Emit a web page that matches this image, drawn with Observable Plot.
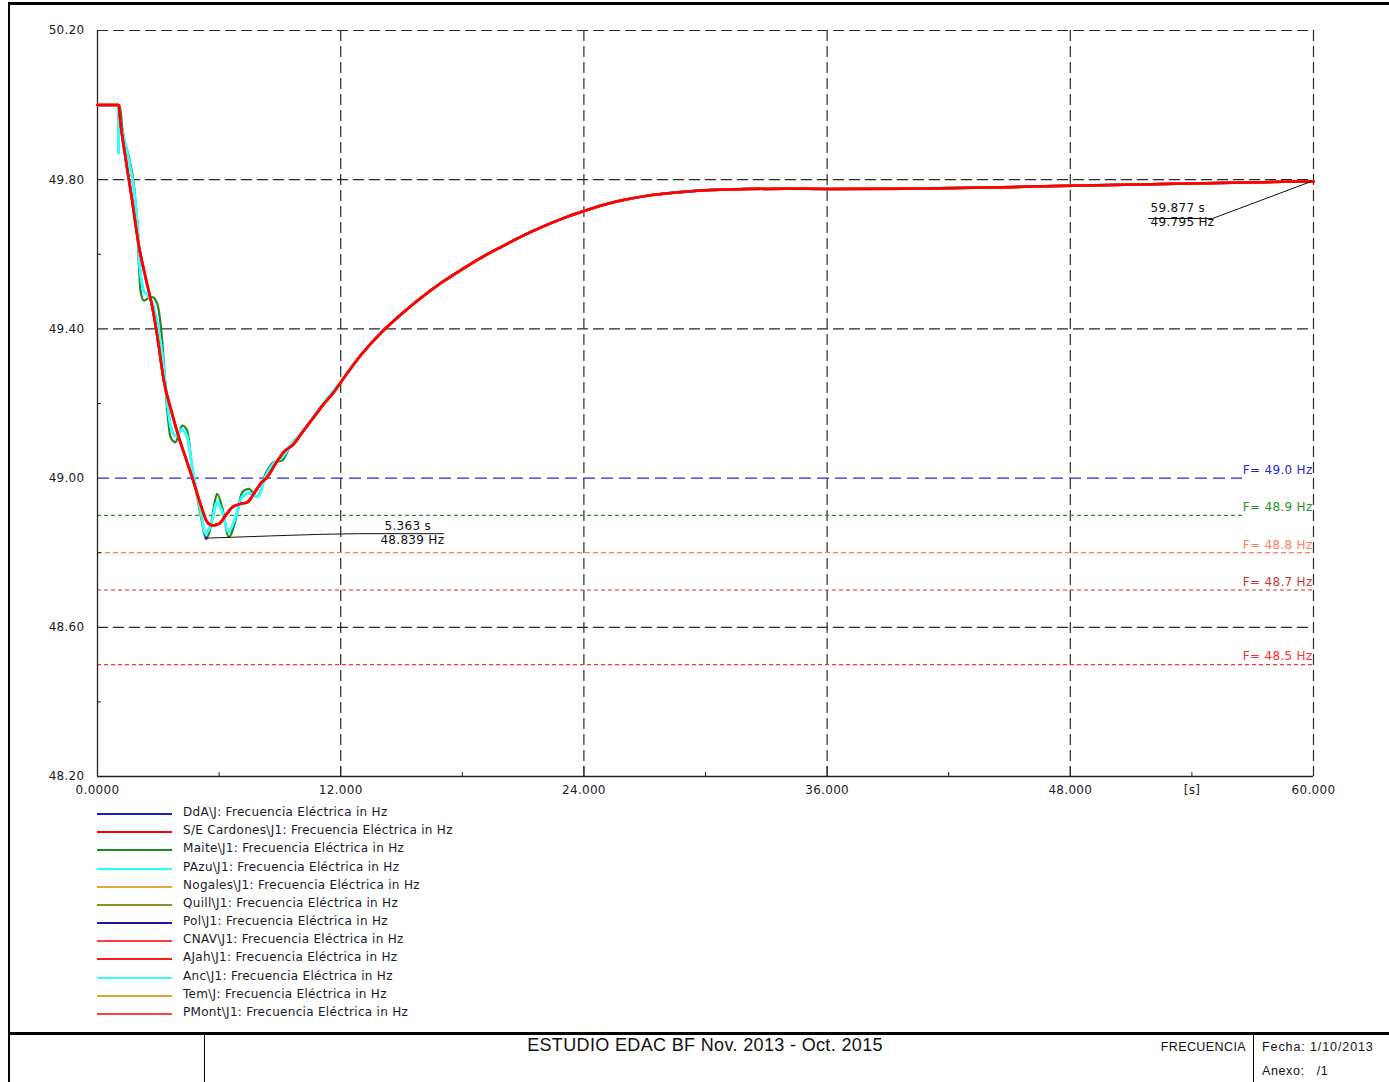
<!DOCTYPE html>
<html>
<head>
<meta charset="utf-8">
<script src="https://cdn.jsdelivr.net/npm/d3@7"></script>
<script src="https://cdn.jsdelivr.net/npm/@observablehq/plot@0.6"></script>
<style>
  html, body { margin: 0; padding: 0; background: #fff; }
  #page { position: relative; width: 1389px; height: 1082px; overflow: hidden; background: #fff; font-family: "DejaVu Sans", sans-serif; }
  #chart { position: absolute; left: 0; top: 0; }
  .bar { position: absolute; background: #000; }
  .leg { position: absolute; left: 0; height: 18px; width: 700px; font-size: 12px; letter-spacing: 0.3px; color: #1a1a2a; }
  .leg .sw { position: absolute; left: 97px; top: 8px; width: 75px; height: 1.5px; }
  .leg .tx { position: absolute; left: 183px; top: 0px; white-space: nowrap; }
  .ft { position: absolute; white-space: nowrap; color: #111; font-family: "Liberation Sans", Arial, sans-serif; }
</style>
</head>
<body>
<div id="page">
  <div id="chart"></div>
  <div id="legend"></div>
  <div class="bar" style="left:8px;top:2px;width:1381px;height:3px;"></div>
  <div class="bar" style="left:8px;top:2px;width:2px;height:1080px;"></div>
  <div class="bar" style="left:8px;top:1032px;width:1381px;height:3px;"></div>
  <div class="bar" style="left:204px;top:1035px;width:1px;height:47px;"></div>
  <div class="bar" style="left:1253px;top:1035px;width:1px;height:47px;"></div>
  <div class="ft" id="ftTitle" style="left:405px;width:600px;text-align:center;top:1035px;font-size:18px;letter-spacing:0.35px;"></div>
  <div class="ft" id="ftSection" style="right:143px;top:1040px;font-size:12.5px;letter-spacing:0.4px;"></div>
  <div class="ft" id="ftDate" style="left:1262px;top:1040px;font-size:12.5px;letter-spacing:0.9px;"></div>
  <div class="ft" id="ftAnnex" style="left:1262px;top:1064px;font-size:12.5px;letter-spacing:0.6px;white-space:pre;"></div>
</div>
<script>
// ---------- Data ----------
const xTicks = [0, 12, 24, 36, 48, 54, 60];
const xTickLabels = ["0.0000", "12.000", "24.000", "36.000", "48.000", "[s]", "60.000"];
const xGrid = [12, 24, 36, 48, 60];
const xMinor = [6, 18, 30, 42, 54];
const yTicks = [50.2, 49.8, 49.4, 49.0, 48.6, 48.2];
const yTickLabels = ["50.20", "49.80", "49.40", "49.00", "48.60", "48.20"];
const yGrid = [50.2, 49.8, 49.4, 48.6];
const yMinor = [50.0, 49.6, 49.2, 48.8, 48.4];

// Frequency profiles (s, Hz)
const redT = [0, 1.05, 1.1, 1.38, 1.71, 2.02, 2.37, 2.71, 2.96, 3.27, 3.68, 4.01, 4.34, 4.67, 5.08, 5.41, 5.66, 5.99, 6.32, 6.65, 7.06, 7.39, 7.71, 8.04, 8.37, 8.78, 9.19, 9.69, 10.18, 10.67, 11.17, 11.66, 12.07];
const redF = [50.0, 50.0, 49.97, 49.86, 49.744, 49.629, 49.538, 49.457, 49.377, 49.262, 49.173, 49.11, 49.056, 49.002, 48.931, 48.882, 48.873, 48.877, 48.9, 48.922, 48.931, 48.935, 48.958, 48.985, 49.002, 49.038, 49.07, 49.092, 49.128, 49.163, 49.199, 49.23, 49.262];
const greenT = [0, 1.1, 1.22, 1.55, 1.79, 1.96, 2.04, 2.12, 2.29, 2.5, 2.7, 2.95, 3.11, 3.19, 3.44, 3.6, 3.85, 4.0, 4.18, 4.42, 4.67, 5.08, 5.363, 5.58, 5.75, 5.9, 6.15, 6.48, 6.81, 7.14, 7.47, 7.88, 8.29, 8.7, 9.11, 9.52, 10.18, 11.0, 12.07];
const greenF = [50.0, 50.0, 49.94, 49.86, 49.789, 49.68, 49.575, 49.503, 49.476, 49.482, 49.485, 49.467, 49.414, 49.369, 49.181, 49.11, 49.096, 49.115, 49.141, 49.128, 49.029, 48.904, 48.839, 48.868, 48.925, 48.958, 48.922, 48.842, 48.886, 48.962, 48.971, 48.949, 49.011, 49.043, 49.047, 49.087, 49.128, 49.19, 49.262];
const cyanT = [0, 1.03, 1.04, 1.06, 1.22, 1.55, 1.79, 2.0, 2.1, 2.3, 2.5, 2.7, 3.0, 3.2, 3.45, 3.65, 3.9, 4.15, 4.4, 4.7, 5.1, 5.33, 5.6, 5.9, 6.15, 6.45, 6.8, 7.14, 7.5, 7.9, 8.3, 8.7, 9.1, 9.5, 10.18, 11.0, 12.07];
const cyanF = [50.0, 50.0, 49.87, 49.96, 49.93, 49.85, 49.775, 49.66, 49.56, 49.5, 49.49, 49.47, 49.4, 49.33, 49.2, 49.13, 49.112, 49.13, 49.115, 49.02, 48.91, 48.852, 48.875, 48.935, 48.91, 48.856, 48.893, 48.95, 48.96, 48.95, 49.005, 49.04, 49.055, 49.085, 49.128, 49.19, 49.262];
// after ~12 s all series coincide
const tailT = [13, 14, 15, 16, 17, 18, 19, 20, 21, 22, 23, 24, 25, 26, 27, 28, 29, 30, 32, 34, 36, 40, 44, 48, 52, 56, 59.877, 60];
const tailF = [49.33, 49.39, 49.44, 49.485, 49.525, 49.56, 49.593, 49.622, 49.65, 49.675, 49.697, 49.716, 49.733, 49.746, 49.756, 49.763, 49.768, 49.772, 49.775, 49.776, 49.775, 49.776, 49.779, 49.784, 49.788, 49.792, 49.795, 49.795];

// Series (legend order)
const seriesNames = [
  "DdA\\J: Frecuencia Eléctrica in Hz",
  "S/E Cardones\\J1: Frecuencia Eléctrica in Hz",
  "Maite\\J1: Frecuencia Eléctrica in Hz",
  "PAzu\\J1: Frecuencia Eléctrica in Hz",
  "Nogales\\J1: Frecuencia Eléctrica in Hz",
  "Quill\\J1: Frecuencia Eléctrica in Hz",
  "Pol\\J1: Frecuencia Eléctrica in Hz",
  "CNAV\\J1: Frecuencia Eléctrica in Hz",
  "AJah\\J1: Frecuencia Eléctrica in Hz",
  "Anc\\J1: Frecuencia Eléctrica in Hz",
  "Tem\\J: Frecuencia Eléctrica in Hz",
  "PMont\\J1: Frecuencia Eléctrica in Hz"
];
const seriesColors = ["#1c1ccc", "#ff0000", "#1f8a1f", "#22ffff", "#e0a640", "#8c8c2a", "#1a1aa8", "#ff3b3b", "#ff1a1a", "#33ffff", "#d9a43a", "#ff4040"];
const seriesProfile = ["cyan", "red", "green", "cyan", "red", "red", "cyan", "red", "red", "cyan", "red", "red"];
const drawOrder = [4, 5, 10, 0, 6, 2, 3, 9, 7, 8, 11, 1];

// Threshold reference lines
const refValues = [49.0, 48.9, 48.8, 48.7, 48.5];
const refLabels = ["F= 49.0 Hz", "F= 48.9 Hz", "F= 48.8 Hz", "F= 48.7 Hz", "F= 48.5 Hz"];
const refColors = ["#2a2ad0", "#2a922a", "#ff8060", "#c83838", "#ff3030"];
const refDash = ["12,6", "4,3", "5,3", "4,3", "4,3"];
const refEnd = [56.5, 56.5, 60, 60, 60];

// Annotations (data coordinates)
const minMarkT = 5.363, minMarkF = 48.839;
const ann1LineT = [5.363, 8.54, 10.84, 12.88, 17.07];
const ann1LineF = [48.839, 48.845, 48.849, 48.851, 48.851];
const ann1Text = ["5.363 s", "48.839 Hz"];
const ann1TextT = [14.16, 13.96];
const ann1TextF = [48.872, 48.834];
const ann2LineT = [59.877, 55.02, 51.86];
const ann2LineF = [49.795, 49.696, 49.696];
const ann2Text = ["59.877 s", "49.795 Hz"];
const ann2TextT = [51.96, 51.96];
const ann2TextF = [49.724, 49.686];

const footerTitle = "ESTUDIO EDAC BF Nov. 2013 - Oct. 2015";
const footerSection = "FRECUENCIA";
const footerDate = "Fecha: 1/10/2013";
const footerAnnex = "Anexo:   /1";

// ---------- Build ----------
const profiles = {
  red: redT.map((t, i) => ({t, f: redF[i]})),
  green: greenT.map((t, i) => ({t, f: greenF[i]})),
  cyan: cyanT.map((t, i) => ({t, f: cyanF[i]}))
};
const tail = tailT.map((t, i) => ({t, f: tailF[i]}));
for (const k in profiles) profiles[k] = profiles[k].concat(tail);

const widthFor = i => {
  if (i === 2) return 2.2;
  if (i === 3 || i === 9) return 2.6;
  if (seriesColors[i].startsWith("#ff")) return 2.5;
  return 1.8;
};

const lineMarks = drawOrder.map(i =>
  Plot.line(profiles[seriesProfile[i]], {x: "t", y: "f", stroke: seriesColors[i], strokeWidth: widthFor(i), curve: "monotone-x"})
);

const refRows = refValues.map((v, i) => ({v, label: refLabels[i], color: refColors[i], dash: refDash[i], end: refEnd[i]}));

const gridStyle = {stroke: "#2a2a2a", strokeWidth: 1.2, strokeDasharray: "11,5"};
const fs = 12;

const chart = Plot.plot({
  width: 1389,
  height: 800,
  marginLeft: 97,
  marginRight: 76,
  marginTop: 30,
  marginBottom: 24,
  x: {domain: [0, 60], label: null},
  y: {domain: [48.2, 50.2], label: null},
  style: {fontFamily: "DejaVu Sans", fontSize: "12px", color: "#1a1a2a", background: "transparent", overflow: "visible", letterSpacing: "0.3px"},
  marks: [
    Plot.ruleY(yGrid, gridStyle),
    Plot.ruleX(xGrid, gridStyle),
    ...refRows.map(r => Plot.ruleY([r.v], {x1: 0, x2: r.end, stroke: r.color, strokeWidth: 1.2, strokeDasharray: r.dash})),
    Plot.text(refRows, {x: 60, y: "v", text: "label", fill: "color", textAnchor: "end", dx: -1, dy: -8, fontSize: fs}),
    Plot.tickX(xMinor, {x: d => d, insetTop: 742, stroke: "#222"}),
    Plot.tickX(xGrid, {x: d => d, insetTop: 736, stroke: "#222"}),
    Plot.tickY(yMinor, {y: d => d, insetRight: 1212, stroke: "#222"}),
    Plot.ruleX([0], {stroke: "#222", strokeWidth: 1.3}),
    Plot.ruleY([48.2], {stroke: "#222", strokeWidth: 1.3}),
    Plot.axisX(xTicks, {tickSize: 0, tickPadding: 9, tickFormat: d => xTickLabels[xTicks.indexOf(d)], fontSize: fs, label: null}),
    Plot.axisY(yTicks, {tickSize: 0, tickPadding: 13, tickFormat: d => yTickLabels[yTicks.indexOf(d)], fontSize: fs, label: null}),
    ...lineMarks,
    Plot.line(ann1LineT.map((t, i) => ({t, f: ann1LineF[i]})), {x: "t", y: "f", stroke: "#111", strokeWidth: 1}),
    Plot.dot([{t: minMarkT, f: minMarkF}], {x: "t", y: "f", r: 1.6, fill: "#1a1aa8", stroke: null}),
    Plot.text(ann1Text.map((s, i) => ({s, t: ann1TextT[i], f: ann1TextF[i]})), {x: "t", y: "f", text: "s", textAnchor: "start", fill: "#111", fontSize: fs}),
    Plot.line(ann2LineT.map((t, i) => ({t, f: ann2LineF[i]})), {x: "t", y: "f", stroke: "#111", strokeWidth: 1}),
    Plot.text(ann2Text.map((s, i) => ({s, t: ann2TextT[i], f: ann2TextF[i]})), {x: "t", y: "f", text: "s", textAnchor: "start", fill: "#111", fontSize: fs})
  ]
});
document.getElementById("chart").appendChild(chart);

// Legend
const legend = document.getElementById("legend");
seriesNames.forEach((name, i) => {
  const row = document.createElement("div");
  row.className = "leg";
  row.style.top = Math.round(805 + i * 18.18) + "px";
  const sw = document.createElement("div");
  sw.className = "sw";
  sw.style.background = seriesColors[i];
  const tx = document.createElement("div");
  tx.className = "tx";
  tx.textContent = name;
  row.appendChild(sw);
  row.appendChild(tx);
  legend.appendChild(row);
});

document.getElementById("ftTitle").textContent = footerTitle;
document.getElementById("ftSection").textContent = footerSection;
document.getElementById("ftDate").textContent = footerDate;
document.getElementById("ftAnnex").textContent = footerAnnex;
</script>
</body>
</html>
